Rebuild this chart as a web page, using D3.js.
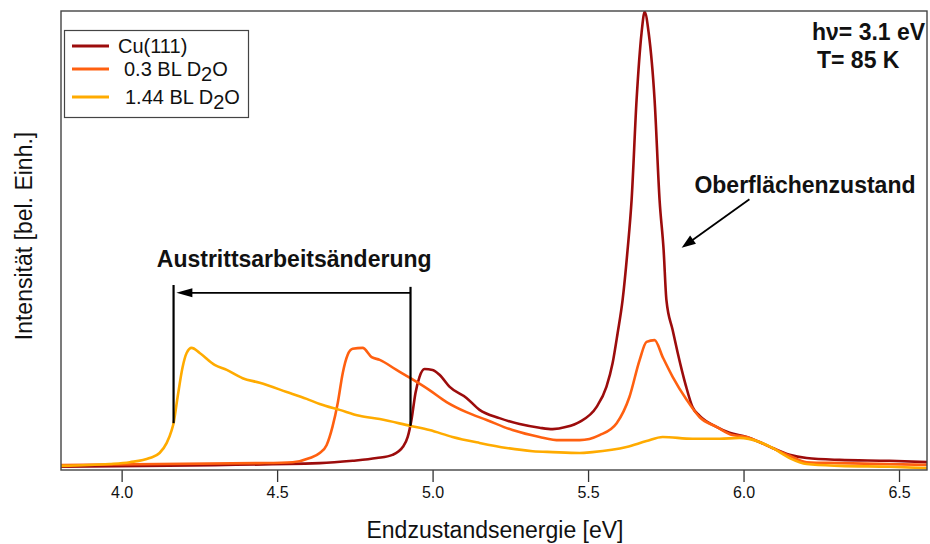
<!DOCTYPE html>
<html>
<head>
<meta charset="utf-8">
<script src="https://cdn.jsdelivr.net/npm/d3@7"></script>
<style>
  body { margin: 0; background: #fff; }
  svg { display: block; font-family: "Liberation Sans", Arial, sans-serif; }
</style>
</head>
<body>
<script>
// values, energy in eV, intensity in arbitrary units (peak ~100)
let cuEnergy = [3.80, 4.637, 4.743, 4.820, 4.871, 4.904, 4.920, 4.932, 4.945, 4.958, 4.974, 5.000, 5.023, 5.055, 5.109, 5.151, 5.215, 5.280, 5.344, 5.386, 5.431, 5.473, 5.527, 5.559, 5.579, 5.595, 5.611, 5.627, 5.640, 5.656, 5.672, 5.682, 5.695, 5.714, 5.730, 5.743, 5.752, 5.772, 5.788, 5.814, 5.836, 5.859, 5.913, 5.955, 6.010, 6.051, 6.093, 6.148, 6.203, 6.309, 6.469, 6.598]
let cuIntensity = [0.7, 1.5, 2.0, 2.6, 3.3, 5.0, 7.2, 10.9, 16.8, 20.3, 22.0, 21.8, 20.7, 18.1, 15.7, 13.1, 11.3, 10.0, 9.2, 8.9, 9.4, 10.5, 13.7, 18.1, 23.3, 29.8, 37.0, 47.9, 58.8, 80.6, 95.2, 99.8, 95.2, 80.6, 58.8, 47.9, 37.0, 30.5, 25.6, 18.5, 13.7, 11.8, 9.4, 8.1, 7.2, 6.1, 4.8, 3.3, 2.6, 2.2, 2.0, 1.7]

let bl03Energy = [3.80, 4.444, 4.550, 4.605, 4.637, 4.659, 4.678, 4.695, 4.711, 4.727, 4.743, 4.775, 4.804, 4.830, 4.884, 4.929, 4.990, 5.045, 5.109, 5.174, 5.257, 5.344, 5.408, 5.473, 5.537, 5.592, 5.633, 5.666, 5.688, 5.714, 5.740, 5.772, 5.817, 5.859, 5.913, 5.965, 6.010, 6.051, 6.093, 6.148, 6.203, 6.309, 6.598]
let bl03Intensity = [1.1, 1.5, 1.7, 2.6, 3.7, 5.4, 9.4, 14.6, 21.1, 25.1, 26.4, 26.6, 24.6, 24.0, 21.8, 20.0, 17.4, 14.8, 12.6, 10.9, 8.7, 7.2, 6.5, 6.5, 7.6, 10.2, 15.9, 24.0, 27.9, 28.3, 24.6, 20.3, 15.3, 11.5, 9.4, 7.6, 7.2, 6.1, 4.8, 3.1, 1.7, 1.5, 1.1]

let bl144Energy = [3.80, 3.961, 4.026, 4.090, 4.122, 4.145, 4.161, 4.167, 4.180, 4.196, 4.209, 4.225, 4.251, 4.299, 4.338, 4.389, 4.444, 4.531, 4.595, 4.637, 4.701, 4.765, 4.830, 4.929, 4.990, 5.064, 5.151, 5.238, 5.322, 5.386, 5.473, 5.514, 5.624, 5.688, 5.740, 5.836, 5.923, 5.987, 6.051, 6.093, 6.148, 6.203, 6.309, 6.469, 6.598]
let bl144Intensity = [0.9, 1.3, 1.7, 2.6, 3.7, 5.9, 8.7, 10.2, 15.9, 22.4, 25.5, 26.6, 25.5, 22.9, 21.8, 20.0, 19.0, 17.0, 15.5, 14.4, 13.1, 11.8, 11.1, 9.6, 8.7, 7.2, 5.9, 4.8, 4.1, 3.9, 3.7, 3.9, 5.0, 6.3, 7.2, 6.8, 6.8, 7.0, 6.1, 4.8, 2.6, 1.3, 0.9, 0.7, 0.4]

let seriesNames = ["Cu(111)", "0.3 BL D2O", "1.44 BL D2O"]
let seriesColors = ["#9c0c0c", "#ff6010", "#ffab00"]
let xTicks = [4.0, 4.5, 5.0, 5.5, 6.0, 6.5]

// annotation anchors in data units
let shiftLines = [[4.167, 40.3, 10.2], [4.929, 39.9, 9.6]]   // [energy, top, bottom]
let shiftArrow = [4.929, 4.176, 38.6]                      // from, to, level
let surfaceArrow = [6.019, 59.0, 5.801, 48.4]             // from x,y -> to x,y

let width = 930
let height = 544
let plotLeft = 61, plotRight = 927, plotTop = 11, plotBottom = 470

let svg = d3.select("body")
            .append("svg")
            .attr("width", width)
            .attr("height", height)

let xScale = d3.scaleLinear()
                .domain([3.805, 6.59])
                .range([plotLeft, plotRight])

let yScale = d3.scaleLinear()
                .domain([0, 100])
                .range([plotBottom, plotTop])

svg.append("defs")
    .append("clipPath")
    .attr("id", "plot-clip")
    .append("rect")
    .attr("x", plotLeft)
    .attr("y", plotTop)
    .attr("width", plotRight - plotLeft)
    .attr("height", plotBottom - plotTop)

let series = [
    cuEnergy.map((e, i) => [e, cuIntensity[i]]),
    bl03Energy.map((e, i) => [e, bl03Intensity[i]]),
    bl144Energy.map((e, i) => [e, bl144Intensity[i]])
]

let line = d3.line()
            .x((d) => xScale(d[0]))
            .y((d) => yScale(d[1]))
            .curve(d3.curveMonotoneX)

svg.append("g")
    .attr("clip-path", "url(#plot-clip)")
    .selectAll("path")
    .data(series)
    .enter()
    .append("path")
    .attr("d", line)
    .attr("fill", "none")
    .attr("stroke", (d, i) => seriesColors[i])
    .attr("stroke-width", 2.6)
    .attr("stroke-linejoin", "round")

// x axis with ticks pointing down, frame drawn separately
let xAxis = d3.axisBottom(xScale)
                .tickValues(xTicks)
                .tickFormat(d3.format(".1f"))
                .tickSizeInner(12)
                .tickSizeOuter(0)
                .tickPadding(5)

let gx = svg.append("g")
            .attr("transform", "translate(0," + plotBottom + ")")
            .call(xAxis)
gx.select(".domain").remove()
gx.selectAll(".tick line").attr("stroke", "#333").attr("stroke-width", 1.3)
gx.selectAll(".tick text")
    .attr("fill", "#111")
    .style("font-size", "16px")
    .style("font-family", "'Liberation Sans', Arial, sans-serif")

svg.append("rect")
    .attr("x", plotLeft)
    .attr("y", plotTop)
    .attr("width", plotRight - plotLeft)
    .attr("height", plotBottom - plotTop)
    .attr("fill", "none")
    .attr("stroke", "#444")
    .attr("stroke-width", 1.4)

svg.append("text")
    .attr("x", 495)
    .attr("y", 538)
    .attr("text-anchor", "middle")
    .style("font-size", "23px")
    .attr("fill", "#111")
    .text("Endzustandsenergie [eV]")

svg.append("text")
    .attr("transform", "translate(32,236) rotate(-90)")
    .attr("text-anchor", "middle")
    .style("font-size", "23px")
    .attr("fill", "#111")
    .text("Intensität [bel. Einh.]")

// legend
let legend = svg.append("g")
legend.append("rect")
    .attr("x", 64.5)
    .attr("y", 30.5)
    .attr("width", 184)
    .attr("height", 87)
    .attr("fill", "#fff")
    .attr("stroke", "#444")
    .attr("stroke-width", 1.2)

let legendY = [46, 69, 97]
let legendTextX = [118, 124, 125]
let legendBase = [53, 76, 104]

seriesNames.forEach((name, i) => {
    legend.append("line")
        .attr("x1", 72)
        .attr("x2", 109)
        .attr("y1", legendY[i])
        .attr("y2", legendY[i])
        .attr("stroke", seriesColors[i])
        .attr("stroke-width", 3)
    let t = legend.append("text")
        .attr("x", legendTextX[i])
        .attr("y", legendBase[i])
        .style("font-size", "20px")
        .attr("fill", "#111")
    if (name.indexOf("D2O") < 0) {
        t.text(name)
    } else {
        t.append("tspan").text(name.replace("D2O", "D"))
        t.append("tspan").attr("dy", 5).text("2")
        t.append("tspan").attr("dy", -5).text("O")
    }
})

// conditions
svg.append("text")
    .attr("x", 812)
    .attr("y", 40)
    .style("font-size", "23px")
    .style("font-weight", "bold")
    .attr("fill", "#111")
    .text("hν= 3.1 eV")

svg.append("text")
    .attr("x", 817)
    .attr("y", 68)
    .style("font-size", "23px")
    .style("font-weight", "bold")
    .attr("fill", "#111")
    .text("T= 85 K")

// annotations
let drawArrowHead = (x, y, angle, len, half) => {
    let pts = [[0, 0], [len, -half], [len, half]].map((p) => {
        let c = Math.cos(angle), s = Math.sin(angle)
        return [x + p[0] * c - p[1] * s, y + p[0] * s + p[1] * c]
    })
    svg.append("path")
        .attr("d", "M" + pts.join("L") + "Z")
        .attr("fill", "#000")
}

shiftLines.forEach((d) => {
    svg.append("line")
        .attr("x1", xScale(d[0]))
        .attr("x2", xScale(d[0]))
        .attr("y1", yScale(d[1]))
        .attr("y2", yScale(d[2]))
        .attr("stroke", "#000")
        .attr("stroke-width", 2.2)
})

svg.append("line")
    .attr("x1", xScale(shiftArrow[0]))
    .attr("x2", xScale(shiftArrow[1]) + 12)
    .attr("y1", yScale(shiftArrow[2]))
    .attr("y2", yScale(shiftArrow[2]))
    .attr("stroke", "#000")
    .attr("stroke-width", 1.8)
drawArrowHead(xScale(shiftArrow[1]), yScale(shiftArrow[2]), 0, 16, 4.5)

svg.append("text")
    .attr("x", xScale(4.113))
    .attr("y", yScale(44.2))
    .style("font-size", "23px")
    .style("font-weight", "bold")
    .attr("fill", "#111")
    .text("Austrittsarbeitsänderung")

let sx1 = xScale(surfaceArrow[0]), sy1 = yScale(surfaceArrow[1])
let sx2 = xScale(surfaceArrow[2]), sy2 = yScale(surfaceArrow[3])
let ang = Math.atan2(sy1 - sy2, sx1 - sx2)
svg.append("line")
    .attr("x1", sx1)
    .attr("y1", sy1)
    .attr("x2", sx2 + 10 * Math.cos(ang))
    .attr("y2", sy2 + 10 * Math.sin(ang))
    .attr("stroke", "#000")
    .attr("stroke-width", 1.8)
drawArrowHead(sx2, sy2, ang, 14, 5)

svg.append("text")
    .attr("x", xScale(5.842))
    .attr("y", yScale(60.3))
    .style("font-size", "23px")
    .style("font-weight", "bold")
    .attr("fill", "#111")
    .text("Oberflächenzustand")
</script>
</body>
</html>
